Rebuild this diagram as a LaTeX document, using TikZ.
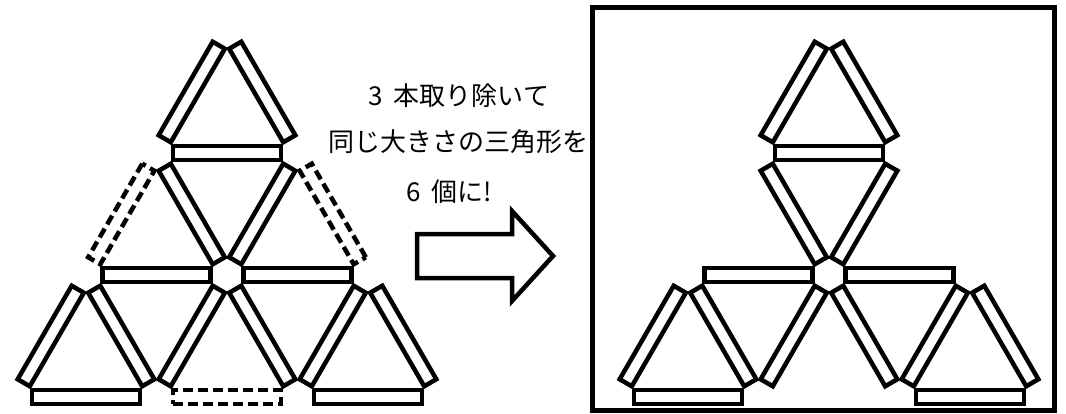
\documentclass[tikz,border=0pt]{standalone}
\usepackage{fontspec}
\newfontfamily\jpfont{Noto Sans CJK JP}
\usetikzlibrary{calc}

\tikzset{
  stick/.style={draw, line width=4.5pt, minimum width=108pt, minimum height=14pt,
    inner sep=0pt, outer sep=0pt, sloped, midway},
  gone/.style={stick, dash pattern=on 10pt off 5pt},
  caption/.style={font=\jpfont\fontsize{26}{30}\selectfont, inner sep=0pt},
}

\begin{document}
\begin{tikzpicture}[x=1pt, y=-1pt]
    \useasboundingbox (0,0) rectangle (1066,413);

    % lattice points, left picture (L) and right picture (R)
    \foreach \rr in {0,...,3}
      \foreach \kk in {0,...,\rr} {
        \coordinate (L\rr\kk) at ({227+(\kk-\rr/2)*141}, {31+\rr*122});
        \coordinate (R\rr\kk) at ({829+(\kk-\rr/2)*141}, {31+\rr*122});
      }

    % the 15 sticks that stay
    \foreach \a/\b in {00/10, 00/11, 10/11, 10/21, 11/21, 20/21, 21/22,
                       20/30, 20/31, 21/31, 21/32, 22/32, 22/33, 30/31, 32/33} {
      \path (L\a) -- (L\b) node[stick] (L\a-\b) {};
      \path (R\a) -- (R\b) node[stick] (R\a-\b) {};
    }

    % the 3 sticks taken away
    \foreach \a/\b in {10/20, 11/22, 31/32}
      \path (L\a) -- (L\b) node[gone] (L\a-\b) {};

    % what to do
    \node[caption] (line1) at (459,96) {3\hspace{.4em}本取り除いて};
    \node[caption] (line2) at (458,142) {同じ大きさの三角形を};
    \node[caption] (line3) at (449,192) {6\hspace{.4em}個に!};

    % block arrow
    \draw[line width=4.5pt] (417,234) -- (512,234) -- (512,211) -- (553,256)
        -- (512,301) -- (512,278) -- (417,278) -- cycle;

    % frame round the answer
    \draw[line width=5pt] (592.5,7.5) rectangle (1054.5,410.5);
\end{tikzpicture}
\end{document}
